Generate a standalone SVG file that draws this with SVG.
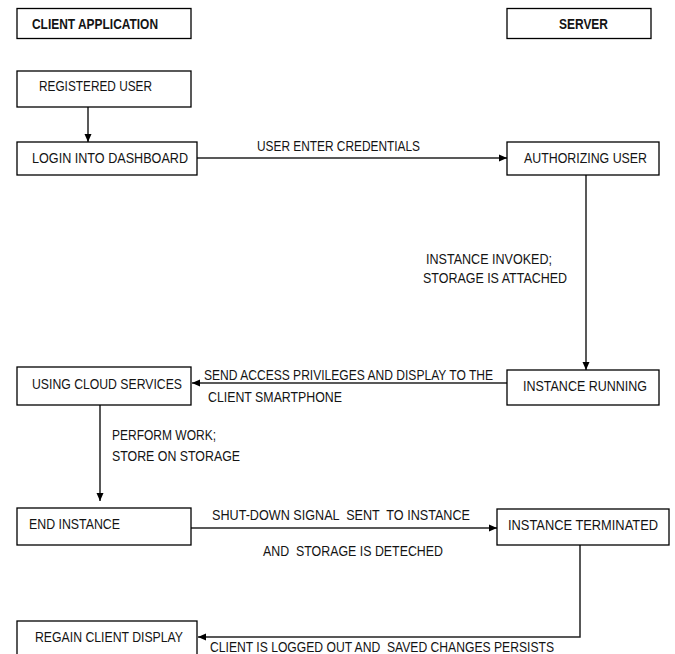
<svg xmlns="http://www.w3.org/2000/svg" width="675" height="654" viewBox="0 0 675 654">
<style>
.box{fill:#fff;stroke:#000;stroke-width:1.3}
.t{font-family:"Liberation Sans",Arial,sans-serif;font-size:15px;fill:#141414}
.b{font-weight:bold}
.c{fill:none;stroke:#222;stroke-width:1.5}
</style>
<defs>
<marker id="ah" markerUnits="userSpaceOnUse" markerWidth="8" markerHeight="8" refX="8" refY="4" orient="auto">
<path d="M0,0.5 L8,4 L0,7.5 Z" fill="#000"/>
</marker>
</defs>
<rect width="675" height="654" fill="#fff"/>
<g id="connectors">
<line class="c" x1="88" y1="107" x2="88" y2="142" marker-end="url(#ah)"/>
<line class="c" x1="197" y1="158" x2="507" y2="158" marker-end="url(#ah)"/>
<line class="c" x1="586" y1="175" x2="586" y2="370" marker-end="url(#ah)"/>
<line class="c" x1="507" y1="383" x2="192" y2="383" marker-end="url(#ah)"/>
<line class="c" x1="100" y1="405" x2="100" y2="501" marker-end="url(#ah)"/>
<line class="c" x1="191" y1="528" x2="497" y2="528" marker-end="url(#ah)"/>
<polyline class="c" points="580,545 580,637 198,637" marker-end="url(#ah)"/>
<text class="t" x="257" y="151" textLength="163" lengthAdjust="spacingAndGlyphs">USER ENTER CREDENTIALS</text>
<text class="t" x="426" y="264" textLength="126" lengthAdjust="spacingAndGlyphs">INSTANCE INVOKED;</text>
<text class="t" x="423" y="283" textLength="144" lengthAdjust="spacingAndGlyphs">STORAGE IS ATTACHED</text>
<text class="t" x="204" y="380" textLength="289" lengthAdjust="spacingAndGlyphs">SEND ACCESS PRIVILEGES AND DISPLAY TO THE</text>
<text class="t" x="208" y="402" textLength="134" lengthAdjust="spacingAndGlyphs">CLIENT SMARTPHONE</text>
<text class="t" x="112" y="440" textLength="104" lengthAdjust="spacingAndGlyphs">PERFORM WORK;</text>
<text class="t" x="112" y="461" textLength="128" lengthAdjust="spacingAndGlyphs">STORE ON STORAGE</text>
<text class="t" x="212" y="520" textLength="258" lengthAdjust="spacingAndGlyphs" xml:space="preserve">SHUT-DOWN SIGNAL  SENT  TO INSTANCE</text>
<text class="t" x="263" y="556" textLength="180" lengthAdjust="spacingAndGlyphs" xml:space="preserve">AND  STORAGE IS DETECHED</text>
<text class="t" x="210" y="652" textLength="344" lengthAdjust="spacingAndGlyphs" xml:space="preserve">CLIENT IS LOGGED OUT AND  SAVED CHANGES PERSISTS</text>
</g>
<g id="client-application">
<rect class="box" x="17" y="8.5" width="174" height="30"/>
<text class="t b" x="32" y="29" textLength="126" lengthAdjust="spacingAndGlyphs">CLIENT APPLICATION</text>
</g>
<g id="server">
<rect class="box" x="507" y="8.5" width="144" height="30"/>
<text class="t b" x="559" y="29" textLength="49" lengthAdjust="spacingAndGlyphs">SERVER</text>
</g>
<g id="registered-user">
<rect class="box" x="17" y="71" width="174" height="36"/>
<text class="t" x="39" y="91" textLength="113" lengthAdjust="spacingAndGlyphs">REGISTERED USER</text>
</g>
<g id="login">
<rect class="box" x="17" y="142" width="180" height="33"/>
<text class="t" x="32" y="163" textLength="156" lengthAdjust="spacingAndGlyphs">LOGIN INTO DASHBOARD</text>
</g>
<g id="authorizing-user">
<rect class="box" x="507" y="142" width="152" height="33"/>
<text class="t" x="524" y="163" textLength="123" lengthAdjust="spacingAndGlyphs">AUTHORIZING USER</text>
</g>
<g id="instance-running">
<rect class="box" x="507" y="370" width="152" height="35"/>
<text class="t" x="523" y="391" textLength="124" lengthAdjust="spacingAndGlyphs">INSTANCE RUNNING</text>
</g>
<g id="using-cloud-services">
<rect class="box" x="17" y="367" width="174" height="38"/>
<text class="t" x="32" y="389" textLength="150" lengthAdjust="spacingAndGlyphs">USING CLOUD SERVICES</text>
</g>
<g id="end-instance">
<rect class="box" x="17" y="508" width="174" height="37"/>
<text class="t" x="29" y="529" textLength="91" lengthAdjust="spacingAndGlyphs">END INSTANCE</text>
</g>
<g id="instance-terminated">
<rect class="box" x="497" y="509" width="172" height="36"/>
<text class="t" x="508" y="530" style="font-size:14px" textLength="150" lengthAdjust="spacingAndGlyphs">INSTANCE TERMINATED</text>
</g>
<g id="regain-client-display">
<rect class="box" x="17" y="621" width="180" height="40"/>
<text class="t" x="35" y="642" textLength="148" lengthAdjust="spacingAndGlyphs">REGAIN CLIENT DISPLAY</text>
</g>
</svg>
